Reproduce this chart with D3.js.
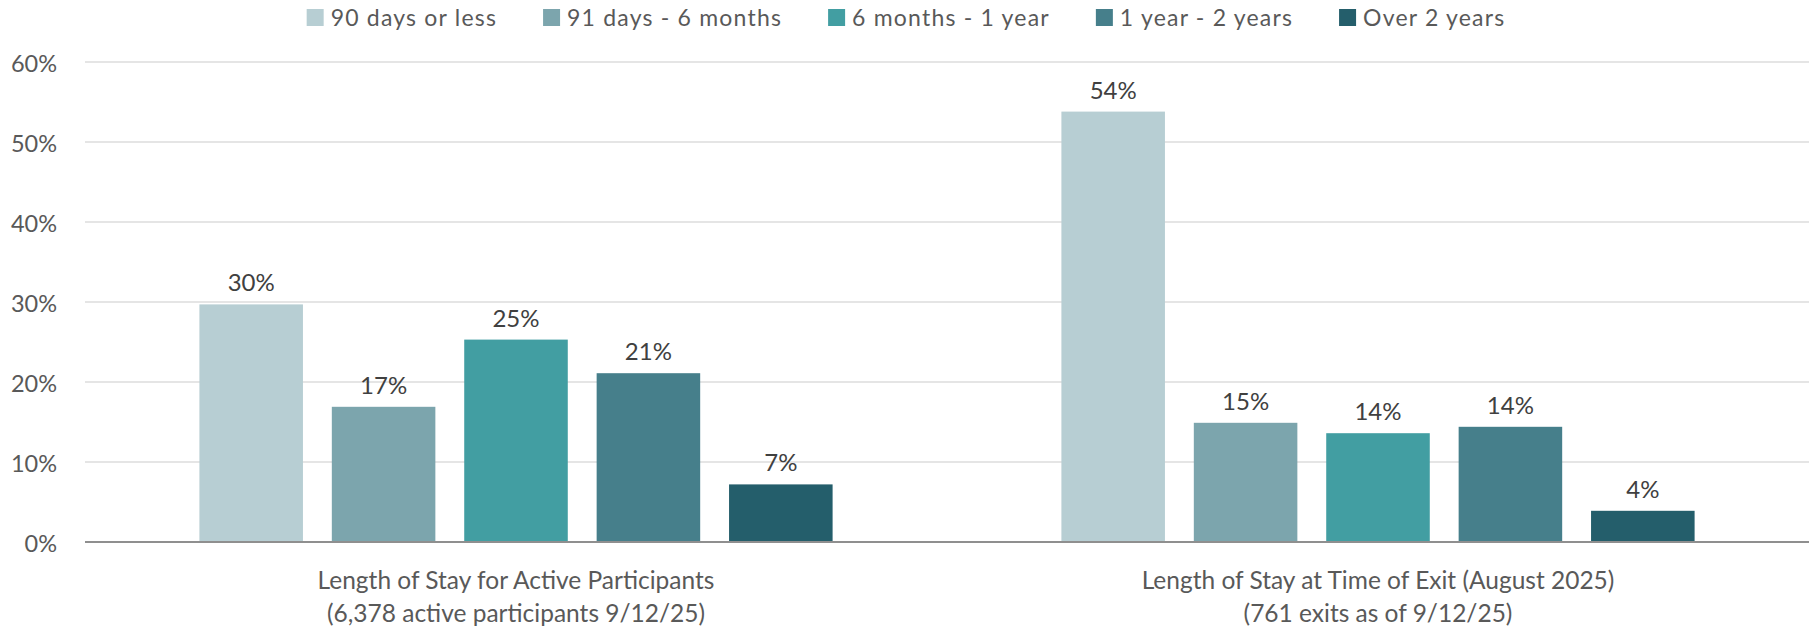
<!DOCTYPE html>
<html>
<head>
<meta charset="utf-8">
<script src="https://cdn.jsdelivr.net/npm/d3@7"></script>
<style>
  html, body { margin: 0; padding: 0; background: #ffffff; }
  svg { display: block; font-family: Lato, "Open Sans", sans-serif; }
</style>
</head>
<body>
<svg id="chart" width="1812" height="630"></svg>
<script>
// Category groups (two lines each)
const groupLines = [
  ["Length of Stay for Active Participants", "(6,378 active participants 9/12/25)"],
  ["Length of Stay at Time of Exit (August 2025)", "(761 exits as of 9/12/25)"]
];
const groups = ["active", "exit"];

// Length-of-stay buckets (series)
const series = ["90 days or less", "91 days - 6 months", "6 months - 1 year", "1 year - 2 years", "Over 2 years"];
const seriesColors = ["#b7ced3", "#7ca5ad", "#429ea2", "#467f8b", "#245e6b"];

// Share of people in each bucket, per group
const activeShare = [0.297, 0.169, 0.253, 0.211, 0.072];
const exitShare   = [0.538, 0.149, 0.136, 0.144, 0.039];

// Y axis ticks
const yTicks = [0, 0.1, 0.2, 0.3, 0.4, 0.5, 0.6];

const rows = [
  { group: groups[0], values: activeShare },
  { group: groups[1], values: exitShare }
];

const svg = d3.select("#chart");
const W = 1812;
const plotLeft = 85, plotRight = 1809, plotTop = 62, plotBottom = 542;

const y = d3.scaleLinear().domain([0, 0.6]).range([plotBottom, plotTop]);
const x0 = d3.scaleBand().domain(groups).range([plotLeft, plotRight]).padding(0);
const x1 = d3.scaleBand().domain(series).range([0, x0.bandwidth()])
  .paddingInner(0.218).paddingOuter(0.864);
const color = d3.scaleOrdinal().domain(series).range(seriesColors);
const pct = d3.format(".0%");

// Horizontal gridlines
svg.append("g")
  .attr("class", "grid")
  .selectAll("line")
  .data(yTicks.filter(d => d > 0))
  .join("line")
  .attr("x1", plotLeft).attr("x2", plotRight)
  .attr("y1", d => y(d)).attr("y2", d => y(d))
  .attr("stroke", "#dcdcdc")
  .attr("stroke-width", 1.6);

// Y axis labels
const yAxis = d3.axisLeft(y).tickValues(yTicks).tickFormat(pct).tickSize(0).tickPadding(28);
const gy = svg.append("g").attr("transform", `translate(${plotLeft},0)`).call(yAxis);
gy.select(".domain").remove();
gy.selectAll("text")
  .attr("fill", "#595959")
  .attr("font-size", 23.5)
  .attr("font-family", "Lato, sans-serif")
  .attr("dy", "0.42em");

// Bars
const gGroups = svg.append("g")
  .selectAll("g")
  .data(rows)
  .join("g")
  .attr("transform", d => `translate(${x0(d.group)},0)`);

const cells = d => d.values.map((v, i) => ({ key: series[i], value: v }));

gGroups.selectAll("rect")
  .data(cells)
  .join("rect")
  .attr("x", d => x1(d.key))
  .attr("width", x1.bandwidth())
  .attr("y", d => y(d.value))
  .attr("height", d => y(0) - y(d.value))
  .attr("fill", d => color(d.key));

// Value labels
gGroups.selectAll("text.value")
  .data(cells)
  .join("text")
  .attr("class", "value")
  .attr("x", d => x1(d.key) + x1.bandwidth() / 2)
  .attr("y", d => y(d.value) - 13)
  .attr("text-anchor", "middle")
  .attr("font-size", 24)
  .attr("fill", "#404040")
  .text(d => pct(d.value));

// Baseline axis
svg.append("line")
  .attr("x1", plotLeft).attr("x2", plotRight)
  .attr("y1", y(0)).attr("y2", y(0))
  .attr("stroke", "#8f8f8f")
  .attr("stroke-width", 2);

// Category labels
const xAxis = svg.append("g");
groups.forEach((g, gi) => {
  const t = xAxis.append("text")
    .attr("x", x0(g) + x0.bandwidth() / 2)
    .attr("text-anchor", "middle")
    .attr("font-size", 24.5)
    .attr("fill", "#595959");
  groupLines[gi].forEach((line, li) => {
    t.append("tspan")
      .attr("x", x0(g) + x0.bandwidth() / 2)
      .attr("y", 589 + li * 33)
      .text(line);
  });
});

// Legend, centred across the page
const legend = svg.append("g");
const items = legend.selectAll("g").data(series).join("g");
items.append("rect")
  .attr("width", 17).attr("height", 17)
  .attr("y", 9)
  .attr("fill", d => color(d));
items.append("text")
  .attr("x", 24)
  .attr("y", 26)
  .attr("font-size", 23)
  .attr("letter-spacing", 1.2)
  .attr("fill", "#595959")
  .text(d => d);
let cursor = 0;
const gap = 46;
items.each(function () {
  const w = 24 + this.querySelector("text").getComputedTextLength();
  d3.select(this).attr("transform", `translate(${cursor},0)`);
  cursor += w + gap;
});
const legendWidth = cursor - gap;
legend.attr("transform", `translate(${(W - legendWidth) / 2},0)`);
</script>
</body>
</html>
